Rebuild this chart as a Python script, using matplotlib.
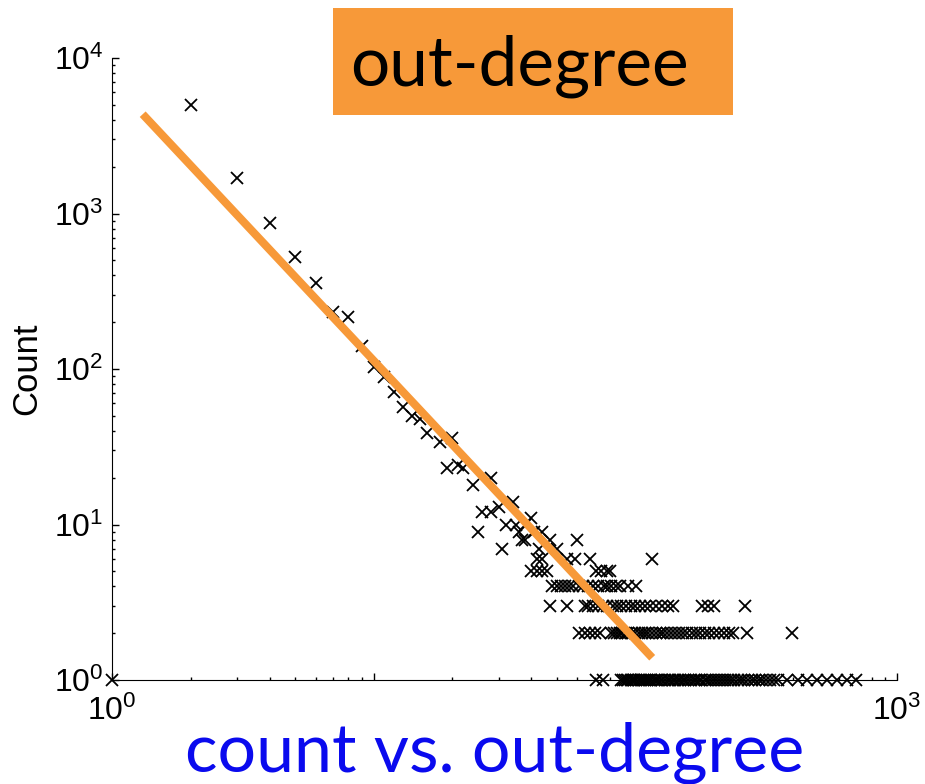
import numpy as np
import matplotlib
matplotlib.use('Agg')
import matplotlib.pyplot as plt
from matplotlib.patches import Rectangle

plt.rcParams['font.family'] = ['Liberation Sans', 'DejaVu Sans']
plt.rcParams['mathtext.fontset'] = 'custom'
plt.rcParams['mathtext.rm'] = 'Liberation Sans'
plt.rcParams['mathtext.default'] = 'regular'

# head of the distribution: (out-degree, count)
head_deg = [2, 3, 4, 5, 6, 7, 8, 9, 10, 11, 12, 13, 14, 15, 16, 18, 20, 19, 21, 22, 24, 28,
            25, 26, 28, 30, 34, 32, 35, 40, 44, 38, 31]
head_cnt = [4975, 1680, 875, 528, 359, 233, 216, 141, 103, 89, 71, 57, 50, 48, 39, 34, 36, 23, 24, 23, 18, 20,
            9, 12, 12, 13, 14, 10, 10, 11, 9, 8, 7]

# tail rows, out-degrees that have the given small count
row_1 = [1, 71, 75, 88, 90, 91, 93, 94, 96, 98, 99, 101, 103, 105, 107, 109, 111, 113, 115, 118, 120,
         122, 125, 127, 130, 133, 136, 139, 142, 145, 148, 152, 155, 159, 163, 167, 171, 175, 179, 184,
         188, 193, 198, 203, 208, 214, 220, 226, 232, 239, 246, 253, 261, 269, 278, 287, 297, 306, 316,
         327, 338, 350, 380, 417, 453, 495, 540, 590, 645, 700]
row_2 = [61, 64, 67, 70, 73, 81, 83, 85, 87, 89, 92, 94, 97, 100, 103, 106, 109, 112, 116, 120, 124,
         128, 132, 137, 142, 147, 152, 158, 164, 170, 177, 184, 192, 200, 209, 218, 228, 236, 268, 396]
row_3 = [47, 55, 64, 66, 69, 72, 75, 78, 82, 85, 88, 92, 96, 100, 104, 109, 114, 120, 126, 133, 139,
         180, 190, 200, 262]
row_4 = [48, 50, 52, 54, 56, 58, 61, 63, 66, 69, 72, 76, 78, 81, 84, 87, 94, 101]
row_5 = [40, 42, 44, 46, 71, 74, 78, 80]
row_6 = [42, 44, 55, 59, 67, 116]
row_7 = [43, 50]
row_8 = [37, 47, 60]
row_9 = [36, 41]
row_10 = [38]

# fitted power law (endpoints of the orange line)
fit_deg = [1.31, 116]
fit_cnt = [4350, 1.39]

# x tick labels: the middle ones are hidden behind the slide caption
xticks = [1, 10, 100, 1000]
xtick_labels = ['$10^{0}$', '', '', '$10^{3}$']

tail_rows = {1: row_1, 2: row_2, 3: row_3, 4: row_4, 5: row_5, 6: row_6,
             7: row_7, 8: row_8, 9: row_9, 10: row_10}
deg = list(head_deg)
cnt = list(head_cnt)
for c, degs in tail_rows.items():
    deg += degs
    cnt += [c] * len(degs)

fig = plt.figure(figsize=(9.25, 7.84), dpi=100)
ax = fig.add_axes([112/925, 1-680/784, (897-112)/925, (680-58)/784])

ax.plot(deg, cnt, 'x', color='black', ms=9, mew=1.3, clip_on=False, zorder=3)
ax.plot(fit_deg, fit_cnt, '-', color='#F79939', lw=5.8, solid_capstyle='butt', zorder=4)

ax.set_xscale('log')
ax.set_yscale('log')
ax.set_xlim(1, 1000)
ax.set_ylim(1, 1e4)
ax.set_xticks(xticks)
ax.set_xticklabels(xtick_labels)
ax.spines['top'].set_visible(False)
ax.spines['right'].set_visible(False)
ax.tick_params(which='both', direction='in', labelsize=23, width=1)
ax.tick_params(which='major', length=5)
ax.tick_params(which='minor', length=2.5)
ax.tick_params(axis='x', pad=11)
ax.tick_params(axis='y', pad=6)
ax.set_ylabel('Count', fontsize=25, labelpad=8)

fig.text(185/925, 1-772/784, 'count vs. out-degree', color='#0A0AEE', fontsize=49,
         family=['Lato', 'DejaVu Sans'], va='baseline', ha='left', zorder=6)

fig.patches.append(Rectangle((333/925, 1-115/784), 400/925, 107/784, transform=fig.transFigure,
                             facecolor='#F79939', edgecolor='none', zorder=5))
fig.text(350/925, 1-85/784, 'out-degree', color='black', fontsize=50,
         family=['Lato', 'DejaVu Sans'], va='baseline', ha='left', zorder=6)

fig.savefig('out.png', dpi=100)
